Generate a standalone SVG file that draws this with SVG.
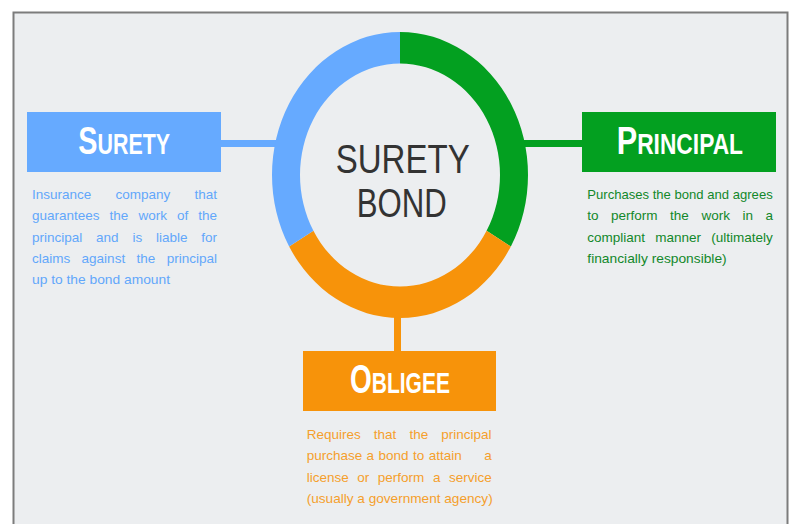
<svg xmlns="http://www.w3.org/2000/svg" width="800" height="524" viewBox="0 0 800 524">
  <style>
    .title { font-family: "Liberation Sans", Arial, sans-serif; font-weight: bold; fill: #ffffff; }
    .center { font-family: "Liberation Sans", Arial, sans-serif; font-size: 41px; fill: #333333; }
    .desc { font-family: "Liberation Sans", Arial, sans-serif; font-size: 13.5px; }
    .blue-t { fill: #62a7fb; }
    .green-t { fill: #12882a; }
    .orange-t { fill: #f59f2c; }
    .conn { fill: none; stroke-width: 7; }
  </style>
  <rect x="0" y="0" width="800" height="524" fill="#ffffff"/>
  <rect x="13.5" y="12.5" width="774" height="520" fill="#eceef0" stroke="#7c7c7c" stroke-width="2"/>

  <g id="connectors">
    <line class="conn" x1="218" y1="143.5" x2="285" y2="143.5" stroke="#66aaff"/>
    <line class="conn" x1="515" y1="143.5" x2="584" y2="143.5" stroke="#03a020"/>
    <line class="conn" x1="397.5" y1="305" x2="397.5" y2="352" stroke="#f7930a" stroke-width="6"/>
  </g>

  <g id="ring">
    <path d="M400,32 A128,143 0 0 1 510.85,246.5 L486.6,230.75 A100,111.5 0 0 0 400,63.5 Z" fill="#03a020"/>
    <path d="M510.85,246.5 A128,143 0 0 1 289.15,246.5 L313.4,230.75 A100,111.5 0 0 0 486.6,230.75 Z" fill="#f7930a"/>
    <path d="M289.15,246.5 A128,143 0 0 1 400,32 L400,63.5 A100,111.5 0 0 0 313.4,230.75 Z" fill="#66aaff"/>
    <text class="center" x="335.7" y="172.7" textLength="134" lengthAdjust="spacingAndGlyphs">SURETY</text>
    <text class="center" x="356.7" y="217.3" textLength="90" lengthAdjust="spacingAndGlyphs">BOND</text>
  </g>

  <g id="surety">
    <rect x="27" y="112" width="194" height="60" fill="#66aaff"/>
    <text class="title" x="78.3" y="154.3" textLength="91.7" lengthAdjust="spacingAndGlyphs"><tspan font-size="39">S</tspan><tspan font-size="29">URETY</tspan></text>
    <text class="desc blue-t" y="199"><tspan x="32">Insurance</tspan><tspan x="115.5">company</tspan><tspan x="194.5">that</tspan></text>
    <text class="desc blue-t" y="220"><tspan x="32">guarantees</tspan><tspan x="109.6">the</tspan><tspan x="138.4">work</tspan><tspan x="177">of</tspan><tspan x="198.3">the</tspan></text>
    <text class="desc blue-t" y="241.7"><tspan x="32">principal</tspan><tspan x="96.1">and</tspan><tspan x="132.4">is</tspan><tspan x="155.9">liable</tspan><tspan x="201.2">for</tspan></text>
    <text class="desc blue-t" y="263.3"><tspan x="32">claims</tspan><tspan x="81.6">against</tspan><tspan x="136.5">the</tspan><tspan x="166.7">principal</tspan></text>
    <text class="desc blue-t" x="32" y="284.3" textLength="138" lengthAdjust="spacingAndGlyphs">up to the bond amount</text>
  </g>

  <g id="principal">
    <rect x="582" y="112" width="194" height="60" fill="#03a020"/>
    <text class="title" x="616.7" y="154.3" textLength="126.3" lengthAdjust="spacingAndGlyphs"><tspan font-size="39">P</tspan><tspan font-size="29">RINCIPAL</tspan></text>
    <text class="desc green-t" x="587.3" y="199" textLength="185.4" lengthAdjust="spacingAndGlyphs">Purchases the bond and agrees</text>
    <text class="desc green-t" y="220"><tspan x="587.3">to</tspan><tspan x="611.1">perform</tspan><tspan x="670.1">the</tspan><tspan x="701.4">work</tspan><tspan x="742.4">in</tspan><tspan x="765.4">a</tspan></text>
    <text class="desc green-t" y="241.7"><tspan x="587.3">compliant</tspan><tspan x="655.3">manner</tspan><tspan x="711.3">(ultimately</tspan></text>
    <text class="desc green-t" x="587.3" y="262.7" textLength="139.4" lengthAdjust="spacingAndGlyphs">financially responsible)</text>
  </g>

  <g id="obligee">
    <rect x="303" y="351" width="193" height="60" fill="#f7930a"/>
    <text class="title" x="350" y="393.3" textLength="100" lengthAdjust="spacingAndGlyphs"><tspan font-size="40">O</tspan><tspan font-size="30">BLIGEE</tspan></text>
    <text class="desc orange-t" y="439"><tspan x="306.7">Requires</tspan><tspan x="373.8">that</tspan><tspan x="409.4">the</tspan><tspan x="441.3">principal</tspan></text>
    <text class="desc orange-t" y="460"><tspan x="306.7">purchase</tspan><tspan x="366.5">a</tspan><tspan x="378.5">bond</tspan><tspan x="413">to</tspan><tspan x="428.8">attain</tspan><tspan x="484.2">a</tspan></text>
    <text class="desc orange-t" y="481.7"><tspan x="306.7">license</tspan><tspan x="357.3">or</tspan><tspan x="377.8">perform</tspan><tspan x="432.9">a</tspan><tspan x="449">service</tspan></text>
    <text class="desc orange-t" x="306.7" y="502.7" textLength="186" lengthAdjust="spacingAndGlyphs">(usually a government agency)</text>
  </g>
</svg>
